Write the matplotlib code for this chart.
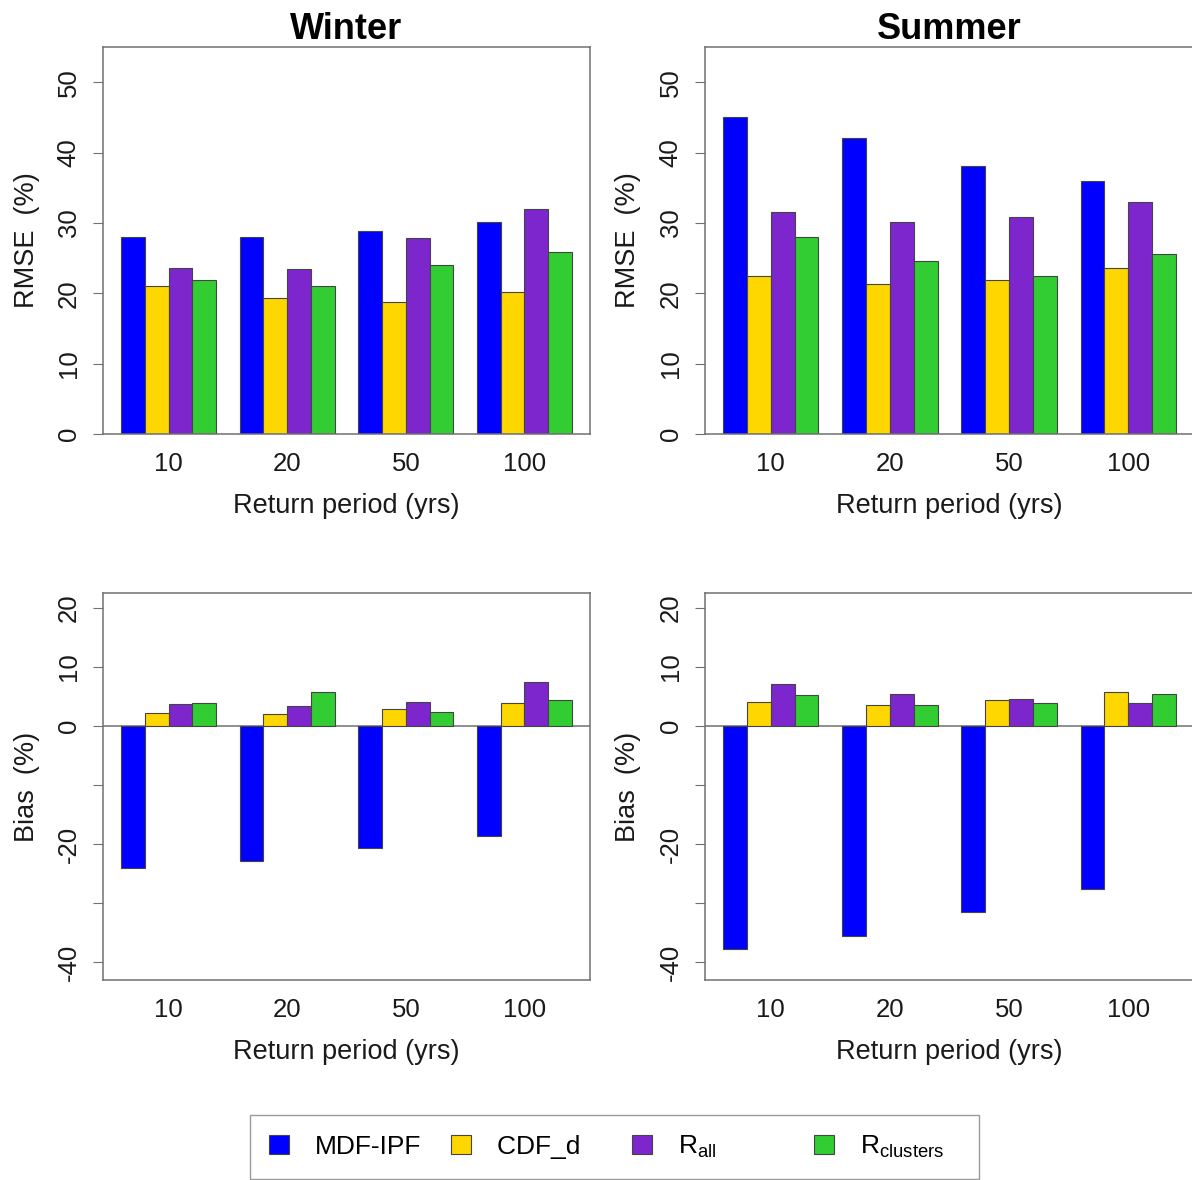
import numpy as np
import matplotlib.pyplot as plt

plt.rcParams['font.family'] = ['Liberation Sans', 'DejaVu Sans']
plt.rcParams['mathtext.fontset'] = 'custom'
plt.rcParams['mathtext.rm'] = 'Liberation Sans'
plt.rcParams['mathtext.it'] = 'Liberation Sans:italic'

# data (rows: MDF-IPF, CDF_d, R_all, R_clusters)
periods = ['10', '20', '50', '100']
methods = ['MDF-IPF', 'CDF_d', r'R$_{\mathrm{all}}$', r'R$_{\mathrm{clusters}}$']
colors = ['#0000FF', '#FFD700', '#7D26CD', '#32CD32']

rmse_winter = [[28.0, 28.0, 28.8, 30.1],
               [21.0, 19.3, 18.7, 20.2],
               [23.6, 23.5, 27.9, 32.0],
               [21.9, 21.0, 24.0, 25.9]]
rmse_summer = [[45.0, 42.1, 38.1, 35.9],
               [22.5, 21.3, 21.9, 23.6],
               [31.6, 30.2, 30.9, 33.0],
               [28.0, 24.6, 22.5, 25.6]]
bias_winter = [[-24.0, -22.8, -20.6, -18.6],
               [2.2, 2.1, 2.9, 3.8],
               [3.75, 3.4, 4.1, 7.4],
               [3.9, 5.7, 2.4, 4.4]]
bias_summer = [[-37.8, -35.5, -31.5, -27.6],
               [4.1, 3.6, 4.4, 5.8],
               [7.1, 5.4, 4.5, 3.9],
               [5.3, 3.6, 3.9, 5.4]]

fig = plt.figure(figsize=(11.92, 11.80), dpi=100)
W, H = 487 / 1192, 387 / 1180
ax_tl = fig.add_axes([103 / 1192, 1 - 434 / 1180, W, H])
ax_tr = fig.add_axes([705 / 1192, 1 - 434 / 1180, 489 / 1192, H])
ax_bl = fig.add_axes([103 / 1192, 1 - 980 / 1180, W, H])
ax_br = fig.add_axes([705 / 1192, 1 - 980 / 1180, 489 / 1192, H])

group_left = np.arange(4) * 5 + 1
spine_col = '#707070'


def draw(ax, data, bias=False):
    bars = []
    for j in range(4):
        b = ax.bar(group_left + j + 0.5, data[j], width=1.0, color=colors[j],
                   edgecolor='#444444', linewidth=0.8, zorder=2)
        bars.append(b)
    ax.set_xlim(0.24, 20.76)
    ax.set_xticks(group_left + 2)
    ax.set_xticklabels(periods)
    ax.tick_params(axis='x', length=0, pad=13, labelsize=18.5, labelcolor='#1a1a1a')
    ax.tick_params(axis='y', length=7, pad=9, labelsize=18.5, labelcolor='#1a1a1a',
                   color=spine_col, labelrotation=90)
    for s in ax.spines.values():
        s.set_color(spine_col)
        s.set_linewidth(1.1)
    ax.set_xlabel('Return period (yrs)', fontsize=19.5, color='#1a1a1a')
    ax.xaxis.set_label_coords(0.5, -0.152)
    ax.xaxis.label.set_va('top')
    if bias:
        ax.set_ylim(-43, 22.5)
        ax.set_yticks([-40, -30, -20, -10, 0, 10, 20])
        ax.set_yticklabels(['-40', '', '-20', '', '0', '10', '20'])
        ax.axhline(0, color=spine_col, linewidth=1.1, zorder=1)
        ax.set_ylabel('Bias  (%)', fontsize=19.5, color='#1a1a1a')
    else:
        ax.set_ylim(0, 55)
        ax.set_yticks([0, 10, 20, 30, 40, 50])
        ax.set_ylabel('RMSE  (%)', fontsize=19.5, color='#1a1a1a')
    for lab in ax.get_yticklabels():
        lab.set_va('center')
    ax.yaxis.set_label_coords(-0.13, 0.5)
    return bars


bars = draw(ax_tl, rmse_winter)
draw(ax_tr, rmse_summer)
draw(ax_bl, bias_winter, bias=True)
draw(ax_br, bias_summer, bias=True)

ax_tl.set_title('Winter', fontsize=26, fontweight='bold', pad=6)
ax_tr.set_title('Summer', fontsize=26, fontweight='bold', pad=6)

# pad labels so the legend columns are evenly spaced, as in the original
leg_labels = ['MDF-IPF', 'CDF_d   ', methods[2] + '          ', methods[3] + '   ']
fig.legend([b[0] for b in bars], leg_labels, ncol=4, loc='center',
           bbox_to_anchor=(614.5 / 1192, 1 - 1147 / 1180), frameon=True,
           fancybox=False, edgecolor='#9a9a9a', framealpha=1, fontsize=19,
           handlelength=0.76, handleheight=0.76, handletextpad=1.0,
           columnspacing=1.1, borderpad=0.7)

fig.savefig('out.png', dpi=100)
